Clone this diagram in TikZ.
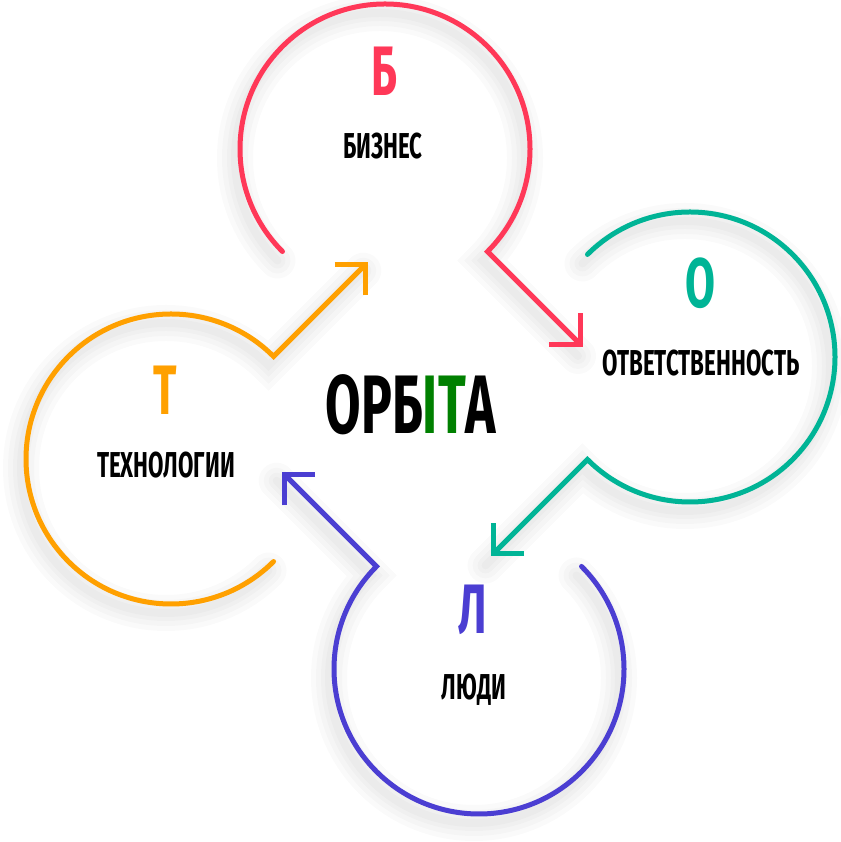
\documentclass[tikz,border=0pt]{standalone}
\usepackage{fontspec}
\setmainfont{Fira Sans}
\usepackage{graphicx}
\usetikzlibrary{arrows.meta}
\definecolor{orbred}{RGB}{255,56,88}
\definecolor{orbteal}{RGB}{0,180,150}
\definecolor{orbviolet}{RGB}{75,62,210}
\definecolor{orborange}{RGB}{255,160,0}
\definecolor{orbgreen}{RGB}{0,128,0}
\newcommand{\squeeze}[1]{\scalebox{0.62}[1]{#1}}

\begin{document}
\begin{tikzpicture}[x=1pt, y=1pt,
    ring/.style={circle, minimum size=290pt, inner sep=0pt, outer sep=0pt},
    halo/.style={preaction={draw=black, draw opacity=0.02, line width=#1, -,
        line cap=round, transform canvas={shift={(-5pt,-9pt)}}}},
    orbit/.style={line width=5pt, line cap=round, line join=miter,
        -{Straight Barb[length=22pt, width=44pt]},
        halo=36pt, halo=26pt, halo=16pt, halo=8pt},
    word/.style={font=\fontsize{36}{40}\selectfont\bfseries, inner sep=0pt},
    capital/.style={font=\fontsize{70}{80}\selectfont\bfseries, inner sep=0pt}
]
    \path[use as bounding box, fill=white] (0,0) rectangle (840,842);

    % the four rings
    \node[ring] (biz) at (385,693) {};
    \node[ring] (otv) at (690,485) {};
    \node[ring] (lyudi) at (479,173) {};
    \node[ring] (tech) at (171,383) {};

    % open rings running into their arrows
    \draw[orbit, orbred] (biz.225) arc[start angle=225, end angle=-45, radius=145]
        -- ++(-45:135) coordinate (biztip);
    \draw[orbit, orbteal] (otv.135) arc[start angle=135, end angle=-135, radius=145]
        -- ++(225:137) coordinate (otvtip);
    \draw[orbit, orbviolet] (lyudi.45) arc[start angle=45, end angle=-225, radius=145]
        -- ++(135:134) coordinate (lyuditip);
    \draw[orbit, orborange] (tech.-45) arc[start angle=-45, end angle=-315, radius=145]
        -- ++(45:134) coordinate (techtip);

    % labels
    \node[capital, orbred] (bizcap) at (384,771) {\squeeze{Б}};
    \node[word] (bizword) at (383,696) {\squeeze{БИЗНЕС}};
    \node[capital, orbteal] (otvcap) at (700,559) {\squeeze{О}};
    \node[word] (otvword) at (701,479) {\squeeze{ОТВЕТСТВЕННОСТЬ}};
    \node[capital, orbviolet] (lyudicap) at (473,232) {\squeeze{Л}};
    \node[word] (lyudiword) at (474,152) {\squeeze{ЛЮДИ}};
    \node[capital, orborange] (techcap) at (165,452) {\squeeze{Т}};
    \node[word] (techword) at (166,377) {\squeeze{ТЕХНОЛОГИИ}};

    \node[font=\fontsize{83}{90}\selectfont\bfseries, inner sep=0pt] (title) at (411,437)
        {\squeeze{ОРБ\textcolor{orbgreen}{IT}А}};
\end{tikzpicture}
\end{document}
